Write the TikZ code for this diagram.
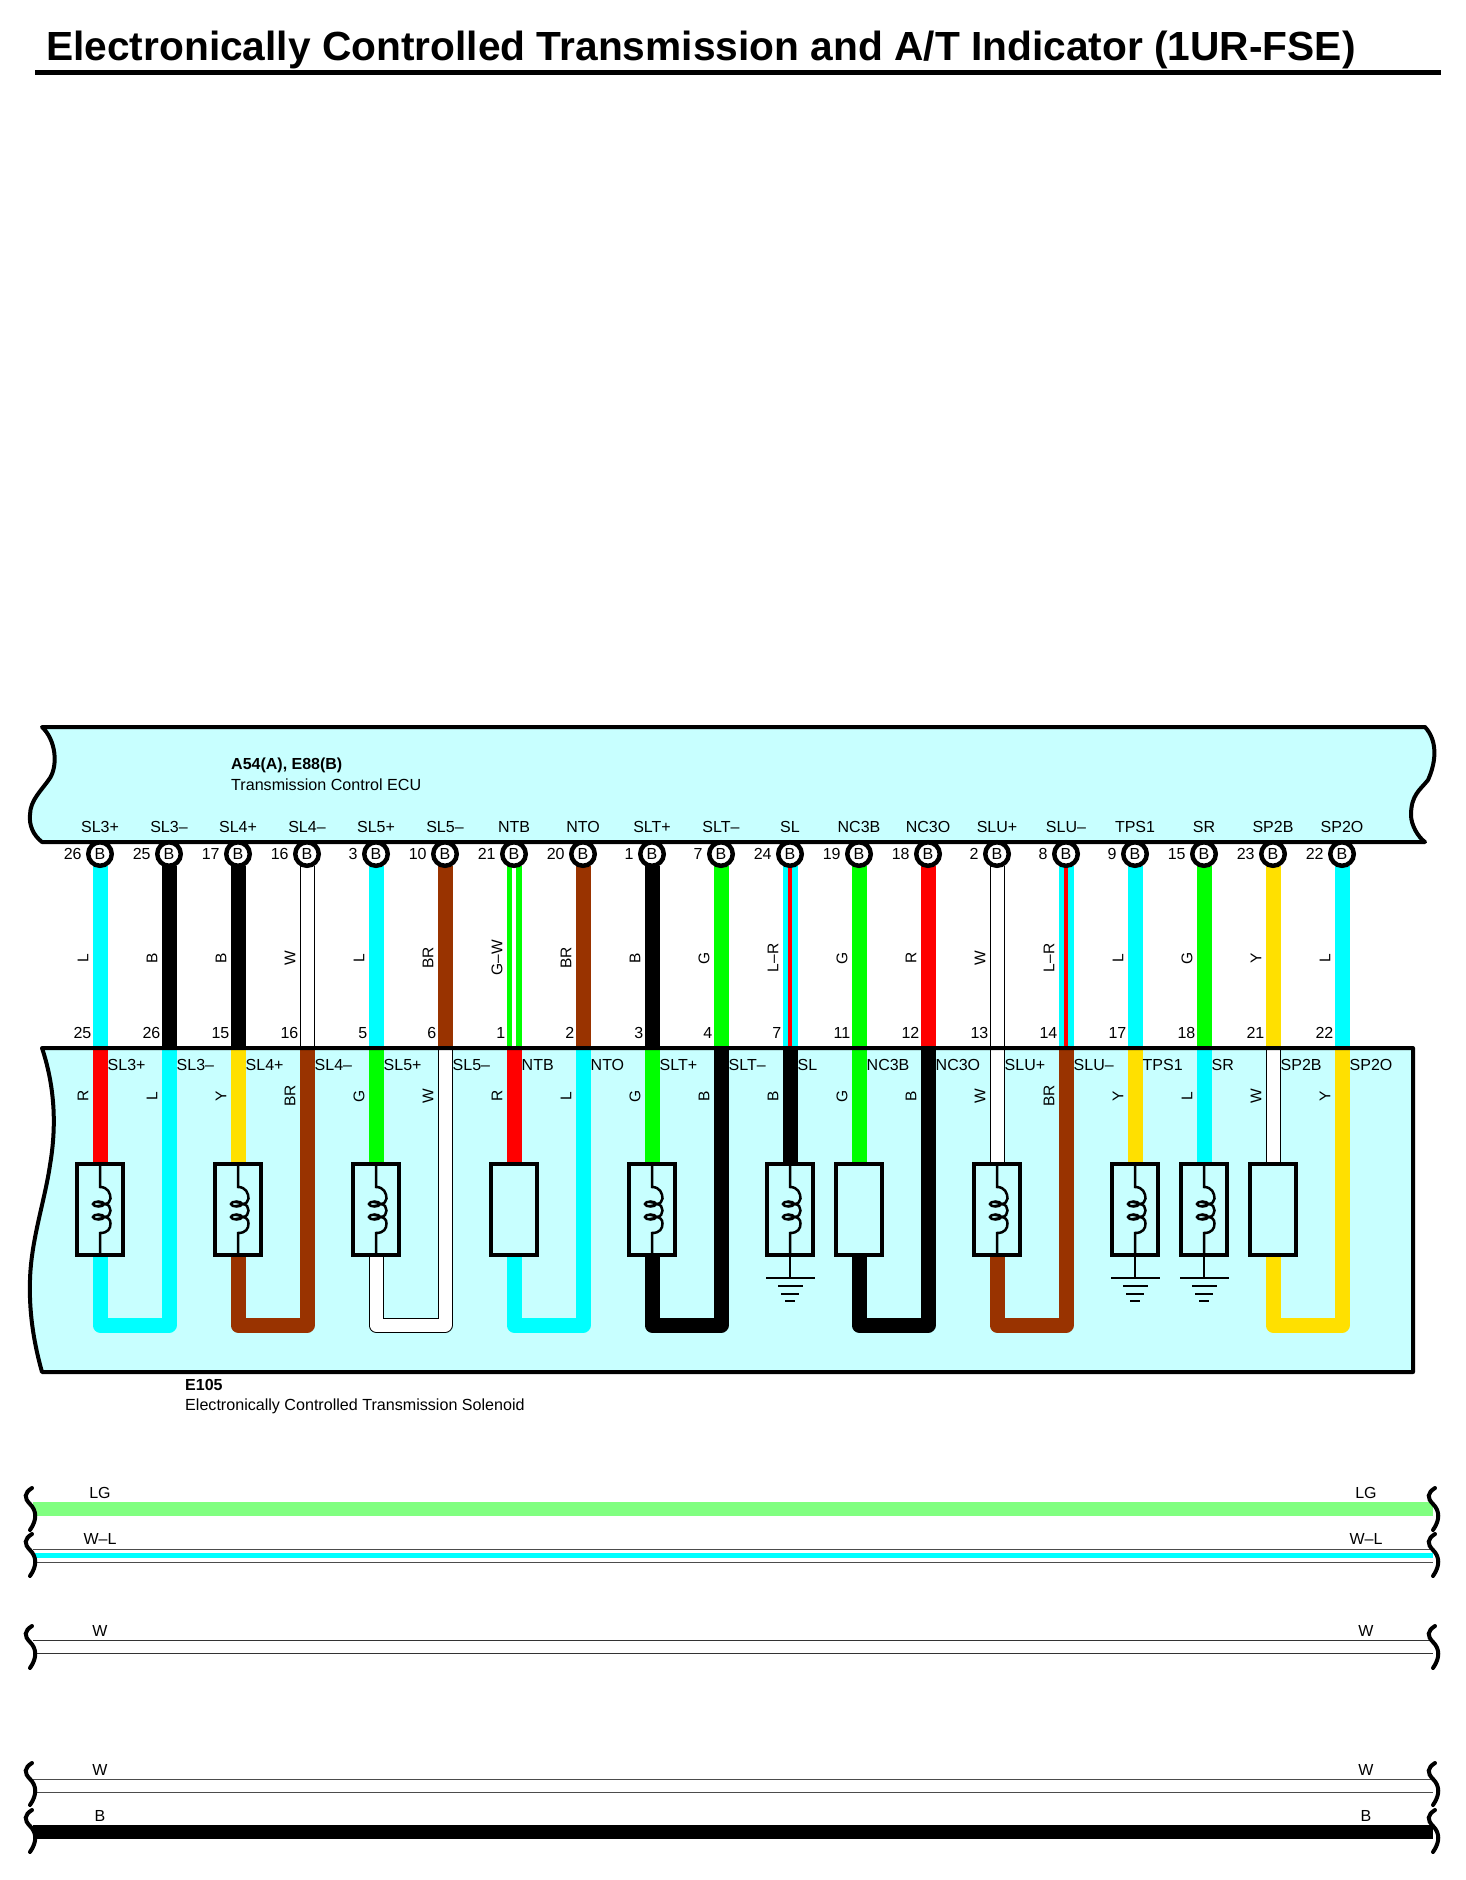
\documentclass[tikz,border=0pt]{standalone}
\usepackage{fontspec}
\setmainfont{Liberation Sans}
\usetikzlibrary{backgrounds,positioning}

\definecolor{boxcyan}{HTML}{C8FFFF}
\definecolor{wirecyan}{HTML}{00FFFF}
\definecolor{wirered}{HTML}{FF0000}
\definecolor{wiregreen}{HTML}{00FF00}
\definecolor{wireyellow}{HTML}{FFE000}
\definecolor{wirebrown}{HTML}{993300}
\definecolor{wirelime}{HTML}{80FF80}

\newcommand{\ecupath}{(42,727) -- (1425,727) .. controls (1437,740) and (1437,760) .. (1428,780) .. controls (1420,790) and (1411,795) .. (1411,815) .. controls (1411,825) and (1418,837) .. (1425,842) -- (42,842) .. controls (33,835) and (29,825) .. (30,815) .. controls (30,800) and (42,790) .. (50,778) .. controls (58,765) and (56,740) .. (42,727) -- cycle}
\newcommand{\solpath}{(42,1048) -- (1413,1048) -- (1413,1372) -- (42,1372) .. controls (33,1340) and (29,1310) .. (30,1280) .. controls (31,1240) and (45,1200) .. (50,1165) .. controls (56,1130) and (56,1090) .. (42,1048) -- cycle}

\tikzset{
  wireL/.style={draw=wirecyan, line width=15pt, line join=round},
  wireB/.style={draw=black, line width=15pt, line join=round},
  wireR/.style={draw=wirered, line width=15pt, line join=round},
  wireG/.style={draw=wiregreen, line width=15pt, line join=round},
  wireY/.style={draw=wireyellow, line width=15pt, line join=round},
  wireBR/.style={draw=wirebrown, line width=15pt, line join=round},
  wireW/.style={draw=black, line width=1pt, double=white, double distance=13pt, line join=round},
  wireLR/.style={draw=wirecyan, line width=5.5pt, double=wirered, double distance=4pt},
  wireGW/.style={draw=wiregreen, line width=5.5pt, double=white, double distance=4pt},
  signame/.style={inner sep=0pt, font=\fontsize{16}{18}\selectfont},
  pinnum/.style={inner sep=0pt, font=\fontsize{16}{18}\selectfont},
  colname/.style={inner sep=0pt, rotate=90, font=\fontsize{15.5}{18}\selectfont},
  pinhead/.style={circle, draw, line width=4.5pt, fill=white, inner sep=0pt, outer sep=0pt, minimum size=23.5pt, font=\fontsize{16}{18}\selectfont},
  solenoid/.style={rectangle, draw, line width=4pt, fill=boxcyan, inner sep=0pt, outer sep=0pt, minimum width=46.5pt, minimum height=91pt},
  gndbar/.style={rectangle, fill=black, inner sep=0pt, outer sep=0pt, minimum height=2pt},
  coil/.pic={
    \draw[line width=2.5pt] (0,-45.5) -- (0,-22.5) .. controls (8,-22.5) and (10.5,-16) .. (10.5,-11) .. controls (10.5,-8) and (8,-5.5) .. (4,-5.5) .. controls (9,-5.5) and (10.5,-2) .. (10.5,1) .. controls (10.5,4) and (9,7.5) .. (4,7.5) .. controls (8,7.5) and (10.5,10) .. (10.5,14) .. controls (10.5,19) and (8,23.5) .. (0,23.5) -- (0,45.5);
    \draw[line width=2.5pt] (-1.5,-5.5) ellipse [x radius=5.5pt, y radius=2.5pt];
    \draw[line width=2.5pt] (-1.5,7.5) ellipse [x radius=5.5pt, y radius=2.5pt];
  },
  wavy/.pic={
    \draw[line width=4pt, line cap=round] (32,0) .. controls (24,5) and (24,10) .. (30,16) .. controls (37,23) and (37,32) .. (30,42);
  },
}

\begin{document}
\begin{tikzpicture}[x=1pt,y=-1pt]
  \useasboundingbox (0,0) rectangle (1465,1880);

  % heading
  \node[anchor=base west, inner sep=0pt, font=\fontsize{40.7}{44}\selectfont\bfseries] (title) at (46,60) {Electronically Controlled Transmission and A/T Indicator (1UR-FSE)};
  \coordinate (ruleL) at (35,72.5);
  \coordinate (ruleR) at (1441,72.5);
  \draw[line width=5pt] (ruleL) -- (ruleR);

  \begin{scope}[on background layer]
    \fill[boxcyan] \ecupath;
    \fill[boxcyan] \solpath;
  \end{scope}

  % one column per terminal
  \foreach \col/\sig/\up/\lp/\ust/\utxt/\lst [evaluate=\col as \cx using 100+69*(\col-1)] in {
    1/SL3+/26/25/L/L/R, 2/SL3–/25/26/B/B/L, 3/SL4+/17/15/B/B/Y, 4/SL4–/16/16/W/W/BR,
    5/SL5+/3/5/L/L/G, 6/SL5–/10/6/BR/BR/W, 7/NTB/21/1/GW/G–W/R, 8/NTO/20/2/BR/BR/L,
    9/SLT+/1/3/B/B/G, 10/SLT–/7/4/G/G/B, 11/SL/24/7/LR/L–R/B, 12/NC3B/19/11/G/G/G,
    13/NC3O/18/12/R/R/B, 14/SLU+/2/13/W/W/W, 15/SLU–/8/14/LR/L–R/BR, 16/TPS1/9/17/L/L/Y,
    17/SR/15/18/G/G/L, 18/SP2B/23/21/Y/Y/W, 19/SP2O/22/22/L/L/Y}{
    \node[pinhead] (pin\col) at (\cx,854) {B};
    \node[pinnum, left=6.5pt of pin\col] (unum\col) {\up};
    \node[signame] (usig\col) at (\cx,827) {\sig};
    \node[colname] (ulab\col) at ({\cx-17},958) {\utxt};
    \coordinate (top\col) at (\cx,1048);
    \coordinate (bot\col) at (\cx,1325);
    \node[pinnum, anchor=east] (lnum\col) at ({\cx-8.5},1033) {\lp};
    \node[signame, anchor=west] (lsig\col) at ({\cx+7.5},1065) {\sig};
    \node[colname] (llab\col) at ({\cx-17},1096) {\lst};
    \begin{scope}[on background layer]
      \draw[wire\ust] (pin\col) -- (top\col);
    \end{scope}
  }

  % solenoids
  \foreach \col in {1,3,5,7,9,11,12,14,16,17,18}{
    \node[solenoid, below=116pt of top\col] (comp\col) {};
  }
  \foreach \col in {1,3,5,9,11,14,16,17}{
    \pic at (comp\col.center) {coil};
  }
  \begin{scope}[on background layer]
    \foreach \col/\lst in {1/R,3/Y,5/G,7/R,9/G,11/B,12/G,14/W,16/Y,17/L,18/W}{
      \draw[wire\lst] (top\col) -- (comp\col);
    }
    \draw[wireL] (comp1) -- (bot1) -- (bot2) -- (top2);
    \draw[wireBR] (comp3) -- (bot3) -- (bot4) -- (top4);
    \draw[wireW] (comp5) -- (bot5) -- (bot6) -- (top6);
    \draw[wireL] (comp7) -- (bot7) -- (bot8) -- (top8);
    \draw[wireB] (comp9) -- (bot9) -- (bot10) -- (top10);
    \draw[wireB] (comp12) -- (bot12) -- (bot13) -- (top13);
    \draw[wireBR] (comp14) -- (bot14) -- (bot15) -- (top15);
    \draw[wireY] (comp18) -- (bot18) -- (bot19) -- (top19);
  \end{scope}

  % grounds
  \foreach \col in {11,16,17}{
    \node[gndbar, minimum width=49pt, below=22pt of comp\col.south] (gndA\col) {};
    \node[gndbar, minimum width=25pt, below=6pt of gndA\col] (gndB\col) {};
    \node[gndbar, minimum width=18pt, below=6pt of gndB\col] (gndC\col) {};
    \node[gndbar, minimum width=10pt, below=5pt of gndC\col] (gndD\col) {};
    \draw[line width=2pt] (comp\col.south) -- (gndA\col);
  }

  \draw[line width=4pt, line join=round] \ecupath;
  \draw[line width=4pt, line join=round] \solpath;

  \node[anchor=west, inner sep=0pt, font=\fontsize{16}{18}\selectfont\bfseries] (ecuid) at (231,765) {A54(A), E88(B)};
  \node[anchor=west, inner sep=0pt, font=\fontsize{16.1}{18}\selectfont] (ecuname) at (231,785) {Transmission Control ECU};
  \node[anchor=west, inner sep=0pt, font=\fontsize{16}{18}\selectfont\bfseries] (solid) at (185,1385) {E105};
  \node[anchor=west, inner sep=0pt, font=\fontsize{16.1}{18}\selectfont] (solname) at (185,1406.5) {Electronically Controlled Transmission Solenoid};

  % harness ends
  \coordinate (lgA) at (33,1509);     \coordinate (lgB) at (1433,1509);
  \coordinate (wlA) at (33,1555.5);   \coordinate (wlB) at (1433,1555.5);
  \coordinate (wA) at (33,1647);      \coordinate (wB) at (1433,1647);
  \coordinate (wwA) at (33,1785.5);   \coordinate (wwB) at (1433,1785.5);
  \coordinate (bkA) at (33,1832);     \coordinate (bkB) at (1433,1832);
  \draw[wirelime, line width=14.5pt] (lgA) -- (lgB);
  \draw[draw=black!70, line width=1pt, double=white, double distance=12pt] (wlA) -- (wlB);
  \draw[wirecyan, line width=4.5pt] (wlA) -- (wlB);
  \draw[draw=black!80, line width=1pt, double=white, double distance=12.5pt] (wA) -- (wB);
  \draw[draw=black!70, line width=1pt, double=white, double distance=12pt] (wwA) -- (wwB);
  \draw[black, line width=14.5pt] (bkA) -- (bkB);
  \foreach \y in {1488,1534,1626,1763,1810}{
    \pic at (0,\y) {wavy};
    \pic at (1403,\y) {wavy};
  }
  \foreach \tag/\txt/\y in {a/LG/1493,b/W–L/1539,c/W/1631,d/W/1770,e/B/1816}{
    \node[signame] (lefttag\tag) at (100,\y) {\txt};
    \node[signame] (righttag\tag) at (1366,\y) {\txt};
  }
\end{tikzpicture}
\end{document}
